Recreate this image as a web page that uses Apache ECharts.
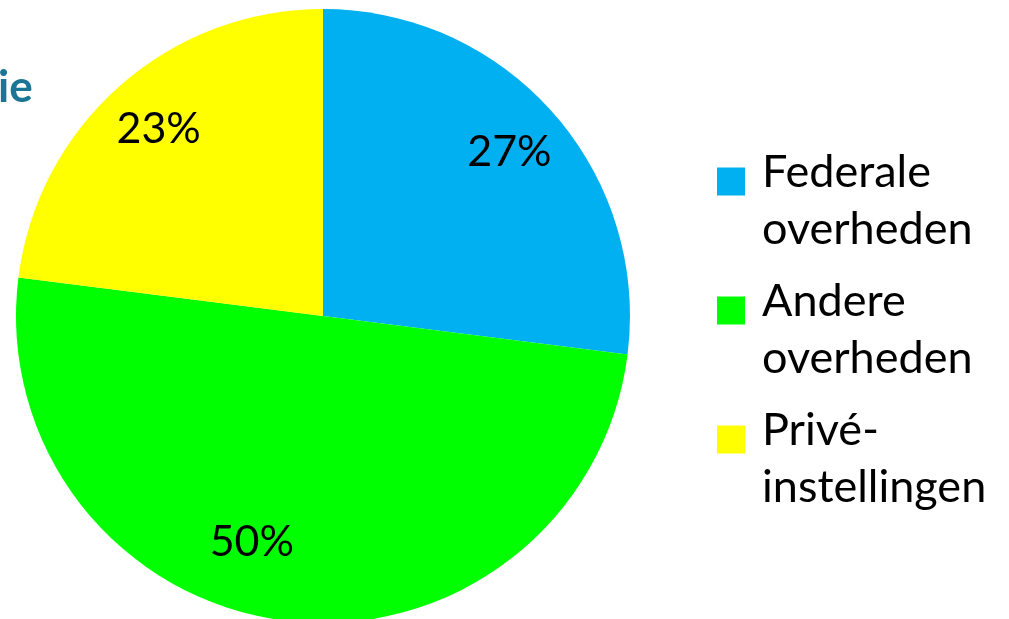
<!DOCTYPE html>
<html>
<head>
<meta charset="utf-8">
<script src="https://cdn.jsdelivr.net/npm/echarts@6/dist/echarts.min.js"></script>
<style>
  html, body { margin: 0; padding: 0; background: #fff; }
  #chart { width: 1009px; height: 619px; }
</style>
</head>
<body>
<div id="chart"></div>
<script>
// chart data
var names = ['Federale\noverheden', 'Andere\noverheden', 'Privé-\ninstellingen']
var values = [27, 50, 23]
var colors = ['#00B0F0', '#00FF00', '#FFFF00']

var pieData = names.map(function (n, i) {
  return { name: n, value: values[i], itemStyle: { color: colors[i] } }
})

var chart = echarts.init(document.getElementById('chart'))
chart.setOption({
  animation: false,
  title: {
    text: 'ie',
    left: -2,
    top: 66,
    padding: 0,
    textStyle: {
      fontFamily: 'Lato',
      fontWeight: 'bold',
      fontSize: 44,
      color: '#1B7594'
    }
  },
  legend: {
    orient: 'vertical',
    left: 717,
    top: 111,
    padding: 0,
    itemWidth: 28,
    itemHeight: 28,
    itemGap: -12,
    icon: 'rect',
    data: names,
    formatter: function (name) {
      return '{a|' + name + '}'
    },
    textStyle: {
      rich: {
        a: {
          fontFamily: 'Lato',
          fontSize: 45,
          lineHeight: 57,
          color: '#000',
          padding: [39, 0, 0, 12]
        }
      }
    }
  },
  series: [
    {
      type: 'pie',
      center: [323, 316],
      radius: [0, 307],
      startAngle: 90,
      clockwise: true,
      silent: true,
      itemStyle: { borderWidth: 0 },
      label: { show: false },
      labelLine: { show: false },
      data: pieData
    },
    {
      // transparent ring only to hold the percentage labels
      type: 'pie',
      center: [323, 316],
      radius: [184, 307],
      startAngle: 90,
      clockwise: true,
      silent: true,
      avoidLabelOverlap: false,
      itemStyle: { color: 'transparent', borderWidth: 0 },
      label: {
        show: true,
        position: 'inside',
        formatter: '{c}%',
        fontFamily: 'Lato',
        fontSize: 43,
        color: '#000'
      },
      labelLine: { show: false },
      data: names.map(function (n, i) {
        var item = { name: n, value: values[i] }
        if (i === 1) item.label = { offset: [-40, -20] }
        return item
      })
    }
  ]
})
</script>
</body>
</html>
